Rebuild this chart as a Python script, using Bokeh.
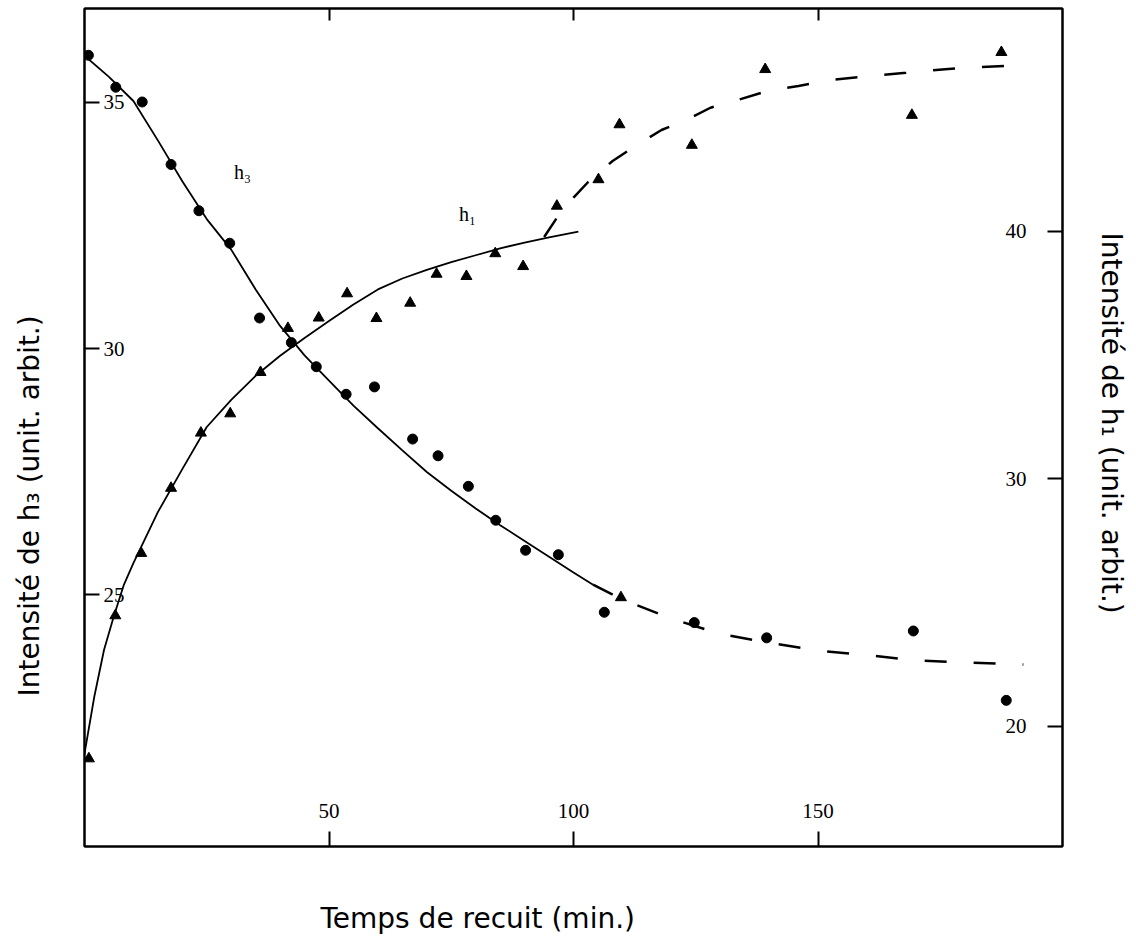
from bokeh.plotting import figure
from bokeh.models import Range1d, LinearAxis, FixedTicker, Label, Title
from bokeh.embed import file_html
from bokeh.resources import INLINE

# ---------------- data ----------------
# h3 measured points (left axis), annealing time in minutes
h3_t = [0.8, 6.4, 11.8, 17.7, 23.4, 29.7, 35.8, 42.3, 47.4, 53.5, 59.3, 67.1,
        72.3, 78.5, 84.1, 90.2, 96.9, 106.3, 124.7, 139.5, 169.5, 188.5]
h3_val = [35.96, 35.31, 35.01, 33.74, 32.80, 32.14, 30.62, 30.12, 29.63, 29.07,
          29.22, 28.16, 27.82, 27.20, 26.51, 25.90, 25.81, 24.64, 24.43, 24.12,
          24.26, 22.85]
# stray triangle sitting on the h3 curve
h3_tri_t = [109.7]
h3_tri_val = [24.94]

# h1 measured points (right axis)
h1_t = [0.9, 6.3, 11.6, 17.7, 23.8, 29.8, 36.0, 41.6, 47.9, 53.7, 59.7, 66.6,
        72.0, 78.1, 84.0, 89.7, 96.6, 105.1, 109.4, 124.2, 139.2, 169.2, 187.5]
h1_val = [18.70, 24.48, 27.00, 29.63, 31.86, 32.64, 34.31, 36.09, 36.51, 37.49,
          36.49, 37.11, 38.28, 38.19, 39.11, 38.59, 41.03, 42.10, 44.32, 43.49,
          46.55, 44.70, 47.24]

# fitted curves
h3_fit_t = [0, 5, 10, 15, 20, 25, 30, 35, 40, 45, 50, 55, 60, 65, 70, 75, 80,
            85, 90, 95, 100, 104]
h3_fit = [35.95, 35.52, 35.03, 34.23, 33.40, 32.63, 32.01, 31.20, 30.46, 29.86,
          29.35, 28.84, 28.38, 27.93, 27.49, 27.11, 26.75, 26.41, 26.09, 25.77,
          25.45, 25.20]
h3_dash_t = [104, 110, 120, 130, 140, 150, 160, 170, 180, 192]
h3_dash = [25.20, 24.90, 24.51, 24.20, 24.02, 23.86, 23.77, 23.66, 23.62, 23.58]

h1_fit_t = [0, 2, 4, 6, 8, 10, 15, 20, 25, 30, 35, 40, 45, 50, 55, 60, 65, 70,
            75, 80, 85, 90, 95, 101]
h1_fit = [18.90, 21.20, 23.10, 24.45, 25.70, 26.60, 28.66, 30.40, 32.10, 33.20,
          34.17, 34.98, 35.70, 36.38, 37.05, 37.66, 38.10, 38.45, 38.76, 39.04,
          39.32, 39.55, 39.76, 39.99]
h1_dash_t = [94, 97, 100, 103, 108, 113, 118, 123, 128, 133, 140, 146, 153, 160,
             168, 176, 183, 190]
h1_dash = [39.78, 40.67, 41.37, 42.00, 42.85, 43.50, 44.10, 44.50, 45.00, 45.28,
           45.70, 45.88, 46.13, 46.27, 46.41, 46.56, 46.64, 46.70]

x_ticks = [50, 100, 150]
h3_ticks = [25, 30, 35]
h1_ticks = [20, 30, 40]

# ---------------- figure ----------------
W, H = 1132, 937
p = figure(width=W, height=H,
           x_range=Range1d(0, 200), y_range=Range1d(19.88, 36.91),
           output_backend="svg", toolbar_location=None,
           min_border_left=84, min_border_right=W - 1062,
           min_border_top=8, min_border_bottom=H - 846)
p.extra_y_ranges = {"h1": Range1d(15.15, 49.01)}
p.background_fill_color = "white"
p.border_fill_color = "white"
p.grid.visible = False
p.outline_line_color = "black"
p.outline_line_width = 2

tick_font = "Liberation Serif"

def style_axis(ax, standoff):
    ax.axis_line_color = "black"
    ax.axis_line_width = 2
    ax.major_tick_line_color = "black"
    ax.major_tick_line_width = 2
    ax.major_tick_in = 15
    ax.major_tick_out = 0
    ax.minor_tick_line_color = None
    ax.major_label_text_font = tick_font
    ax.major_label_text_font_size = "21px"
    ax.major_label_text_color = "black"
    ax.major_label_standoff = standoff

def spacer_axis(size, tick, **kw):
    # unlabeled, invisible axis used only to reserve room between frame and title
    ax = LinearAxis(ticker=FixedTicker(ticks=[tick]),
                    major_label_overrides={tick: ""}, **kw)
    ax.axis_line_color = None
    ax.minor_tick_line_color = None
    ax.major_tick_line_color = "white"
    ax.major_tick_line_alpha = 0.01
    ax.major_tick_line_width = 1
    ax.major_tick_in = 0
    ax.major_tick_out = size
    ax.major_label_standoff = 0
    return ax

# bottom axis
xa = p.xaxis[0]
xa.ticker = FixedTicker(ticks=x_ticks)
style_axis(xa, -43)

# left axis (h3)
ya = p.yaxis[0]
ya.ticker = FixedTicker(ticks=h3_ticks)
style_axis(ya, -40)

# right axis (h1)
ra = LinearAxis(y_range_name="h1", ticker=FixedTicker(ticks=h1_ticks))
style_axis(ra, -57)
p.add_layout(ra, "right")

# top axis (ticks only)
ta = LinearAxis(ticker=FixedTicker(ticks=x_ticks),
                major_label_overrides={t: "" for t in x_ticks})
style_axis(ta, 0)
ta.major_tick_in = 12
p.add_layout(ta, "above")

# ---------------- curves ----------------
p.line(h3_fit_t, h3_fit, line_color="black", line_width=1.8)
p.line(h3_dash_t, h3_dash, line_color="black", line_width=2.5, line_dash="22 27")
p.line(h1_fit_t, h1_fit, line_color="black", line_width=1.8, y_range_name="h1")
p.line(h1_dash_t, h1_dash, line_color="black", line_width=2.5, line_dash="22 27",
       y_range_name="h1")

# ---------------- points ----------------
p.scatter(h3_t, h3_val, marker="circle", size=10, fill_color="black",
          line_color="black")
p.scatter(h3_tri_t, h3_tri_val, marker="triangle", size=11, fill_color="black",
          line_color="black")
p.scatter(h1_t, h1_val, marker="triangle", size=11, fill_color="black",
          line_color="black", y_range_name="h1")

# ---------------- texts ----------------
p.add_layout(Label(x=32.3, y=33.58, text="h\u2083", text_font=tick_font,
                   text_font_size="20px", text_align="center",
                   text_baseline="middle", text_color="black"))
p.add_layout(Label(x=78.3, y=32.74, text="h\u2081", text_font=tick_font,
                   text_font_size="20px", text_align="center",
                   text_baseline="middle", text_color="black"))

# spacers, then titles (outermost)
p.add_layout(spacer_axis(53, 100), "below")
p.add_layout(spacer_axis(39, 30), "left")
p.add_layout(spacer_axis(32, 30, y_range_name="h1"), "right")

title_font = "DejaVu Sans"
t_bottom = Title(text="Temps de recuit (min.)", align="left", offset=236,
                 text_font=title_font, text_font_size="28px",
                 text_font_style="normal", text_color="black", standoff=0)
p.add_layout(t_bottom, "below")
t_left = Title(text="Intensité de h\u2083 (unit. arbit.)", align="left",
               offset=150, text_font=title_font, text_font_size="28px",
               text_font_style="normal", text_color="black", standoff=0)
p.add_layout(t_left, "left")
t_right = Title(text="Intensité de h\u2081 (unit. arbit.)", align="left",
                offset=224, text_font=title_font, text_font_size="28px",
                text_font_style="normal", text_color="black", standoff=0)
p.add_layout(t_right, "right")

open("out.html", "w").write(file_html(p, INLINE))
